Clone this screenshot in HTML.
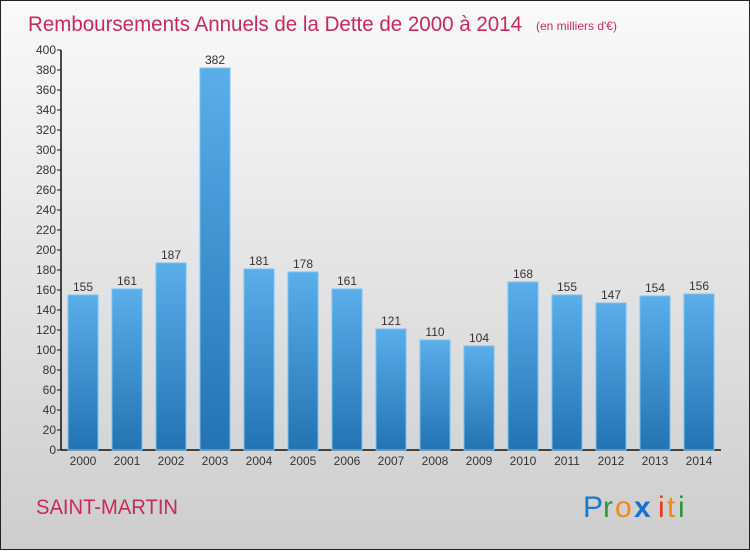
<!DOCTYPE html>
<html><head><meta charset="utf-8"><style>
body{margin:0;width:750px;height:550px;overflow:hidden;font-family:"Liberation Sans",sans-serif}
</style></head><body>
<svg width="750" height="550" xmlns="http://www.w3.org/2000/svg">
<defs>
<linearGradient id="bg" x1="0" y1="0" x2="0" y2="1"><stop offset="0" stop-color="#fafafa"/><stop offset="1" stop-color="#cdcdcd"/></linearGradient>
<linearGradient id="bar" x1="0" y1="0" x2="0" y2="1"><stop offset="0" stop-color="#5aaeea"/><stop offset="1" stop-color="#2373b2"/></linearGradient>
</defs>
<rect x="0.5" y="0.5" width="749" height="549" fill="url(#bg)" stroke="#222"/>
<text x="28" y="31" font-size="21" fill="#c8285a" textLength="494" lengthAdjust="spacingAndGlyphs">Remboursements Annuels de la Dette de 2000 à 2014</text>
<text x="536" y="30" font-size="12" fill="#c8285a">(en milliers d'€)</text>
<g id="axes"></g>
<g id="bars"></g>
<text x="36" y="514" font-size="21" fill="#c8285a" textLength="142" lengthAdjust="spacingAndGlyphs">SAINT-MARTIN</text>
<g font-size="30" font-family="Liberation Sans, sans-serif">
<text x="583" y="517" fill="#1a7ad0">P</text><text x="603" y="517" fill="#2a9a3a">r</text><text x="615" y="517" fill="#f08a10">o</text><text x="634" y="517" fill="#1a6fd0" font-weight="bold">x</text><text x="658" y="517" fill="#e83a1a">i</text><text x="667" y="517" fill="#f08a10">t</text><text x="678" y="517" fill="#2a9a3a">i</text>
</g>
</svg>
<script>
const years=["2000","2001","2002","2003","2004","2005","2006","2007","2008","2009","2010","2011","2012","2013","2014"];
const values=[155,161,187,382,181,178,161,121,110,104,168,155,147,154,156];
const yTicks=[0,20,40,60,80,100,120,140,160,180,200,220,240,260,280,300,320,340,360,380,400];
const NS="http://www.w3.org/2000/svg";
const x0=61,x1=721,y0=450,y1=50,ymax=400;
const band=(x1-x0)/years.length;
const y=v=>y0-(v/ymax)*(y0-y1);
const xc=i=>x0+band*i+band/2;
function mk(t,a,p){const e=document.createElementNS(NS,t);for(const k in a)e.setAttribute(k,a[k]);p.appendChild(e);return e;}
const ax=document.getElementById('axes'),bg=document.getElementById('bars');
const yl=mk('line',{x1:x0,y1:y1,x2:x0,y2:y0,stroke:'#111','stroke-width':1.5},ax);


const xl=mk('line',{x1:x0,y1:y0,x2:x1,y2:y0,stroke:'#111','stroke-width':1.5},ax);


yTicks.forEach(t=>{
 mk('line',{x1:x0-4,x2:x0,y1:y(t),y2:y(t),stroke:'#111'},ax);
 const tx=mk('text',{x:x0-5,y:y(t)+4,'font-size':12,fill:'#333','text-anchor':'end'},ax);
 tx.textContent=t;
 
 
});
years.forEach((yr,i)=>{
 const r=mk('rect',{x:xc(i)-15,y:y(values[i]),width:30,height:y0-y(values[i]),fill:'url(#bar)',stroke:'#7cc0f0','stroke-width':1},bg);
 
 
 const v=mk('text',{x:xc(i),y:y(values[i])-4,'font-size':12,fill:'#333','text-anchor':'middle'},bg);
 v.textContent=values[i];
 
 
 const l=mk('text',{x:xc(i),y:y0+15,'font-size':12,fill:'#333','text-anchor':'middle'},bg);
 l.textContent=yr;
 
 
});
</script>
</body></html>
